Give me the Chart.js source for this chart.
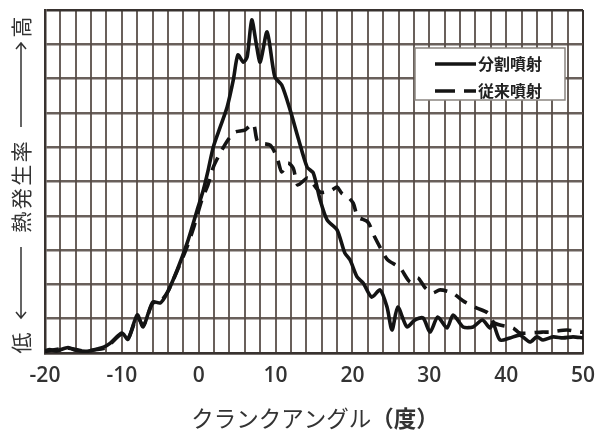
<!DOCTYPE html>
<html>
<head>
<meta charset="utf-8">
<script src="https://cdn.jsdelivr.net/npm/chart.js@4/dist/chart.umd.min.js"></script>
<style>
  html, body { margin: 0; padding: 0; background: #fff; }
  #wrap { width: 598px; height: 432px; }
</style>
</head>
<body>
<div id="wrap"><canvas id="c" width="598" height="432"></canvas></div>
<script>
// Crank angle (deg) and heat release rate (relative units, 0-100) per injection strategy
const crankAngleSplit = [-20, -19.4, -18.5, -17, -16, -14.5, -13.2, -12.3, -11.5, -10, -9.2, -8, -7.25, -6.5, -5.95, -5, -4.1, -2.8, -1.5, -0.7, -0.2, 0.6, 1.2, 1.9, 2.8, 3.7, 4.5, 5.1, 5.8, 6.3, 6.9, 7.5, 8.0, 8.9, 9.9, 10.8, 11.9, 12.9, 14.1, 14.9, 15.8, 16.7, 18.0, 19.0, 19.7, 20.6, 21.4, 22.5, 23.6, 24.5, 25.15, 25.9, 27.1, 28.1, 29.2, 30.1, 31.1, 32.3, 33.1, 34.4, 35.7, 36.9, 37.9, 38.3, 39.2, 40.5, 41.8, 43.1, 44.0, 44.8, 46.1, 47.4, 48.7, 50];
const heatRateSplit = [0.6, 1.0, 0.6, 1.6, 0.8, 0.5, 1.2, 1.8, 2.9, 5.8, 4.0, 11.1, 7.6, 12.0, 14.9, 14.6, 17.5, 24.2, 32.1, 37.9, 41.7, 47.5, 53, 60.1, 65.9, 71.7, 79.6, 86.9, 84.8, 86.3, 97.1, 90, 84.8, 93.6, 80.5, 78.1, 70.8, 63.0, 54.2, 52.5, 44.6, 38.8, 35.9, 29.2, 27.1, 22.2, 20.4, 16.3, 18.4, 13.4, 6.7, 13.4, 7.6, 9.6, 10.2, 6.1, 10.5, 7.3, 11.1, 7.6, 7.6, 9.6, 7.3, 8.7, 3.8, 4.4, 5.2, 3.2, 4.7, 3.8, 4.7, 4.4, 4.7, 4.4];

const crankAngleConv = [-20, -19, -17, -15, -13.2, -12, -11.5, -10, -9.2, -8, -7.2, -6, -5, -4, -2.8, -1.5, -0.6, 0.4, 1.2, 1.9, 2.8, 3.8, 4.7, 6.0, 7.1, 7.7, 9.3, 10.2, 10.8, 11.6, 12.3, 12.9, 14.2, 15.8, 17.3, 18.0, 18.6, 19.4, 20.1, 20.7, 22.0, 22.9, 23.8, 24.6, 26.2, 27.5, 28.5, 29.4, 30.4, 31.4, 33.0, 34.6, 36.2, 37.6, 38.5, 40.9, 41.8, 44.7, 45.7, 47.9, 49.6, 50];
const heatRateConv = [0.5, 0.9, 1.4, 0.6, 1.0, 1.6, 2.6, 5.5, 4.2, 10.5, 8.0, 14.5, 15.0, 18.0, 24.0, 31.0, 37.0, 44.6, 49.0, 54.2, 58.3, 62.1, 64.4, 65.0, 66.8, 61.5, 60.6, 56.9, 52.8, 55.4, 53.9, 49.0, 51.0, 46.9, 47.5, 48.4, 46.6, 45.5, 43.7, 39.7, 38.2, 33.8, 30.0, 27.1, 24.8, 20.7, 21.9, 19.2, 17.5, 18.4, 17.5, 14.9, 13.1, 11.7, 8.7, 7.3, 5.8, 6.1, 6.1, 6.7, 6.1, 6.1];

const xTickLabels = [-20, -10, 0, 10, 20, 30, 40, 50];
const seriesNames = ['分割噴射', '従来噴射'];
const xTitleMain = 'クランクアングル';
const xTitleUnit = '（度）';
const yTitleLow = '低';
const yTitleMid = '熱発生率';
const yTitleHigh = '高';

const toPoints = (xs, ys) => xs.map((x, i) => ({ x: x, y: ys[i] }));

const gridColor = 'rgba(84, 74, 68, 0.88)';
const edgeColor = '#38322f';
const textColor = '#333333';
const cjkFont = '"Noto Sans CJK JP", "Noto Sans", sans-serif';

// White page background
const bgPlugin = {
  id: 'bg',
  beforeDraw(chart) {
    const c = chart.ctx;
    c.save();
    c.fillStyle = '#fff';
    c.fillRect(0, 0, chart.width, chart.height);
    c.restore();
  }
};

// Axis titles: rotated low/high arrow title on the left, mixed-weight title below
const titlesPlugin = {
  id: 'titles',
  afterDraw(chart) {
    const c = chart.ctx;
    c.save();
    c.fillStyle = textColor;
    c.strokeStyle = textColor;
    c.lineWidth = 1.5;
    const cx = 21;
    c.font = '21px ' + cjkFont;
    const vchar = (ch, yc) => {
      c.save();
      c.translate(cx, yc);
      c.rotate(-Math.PI / 2);
      c.textAlign = 'center';
      c.textBaseline = 'middle';
      c.fillText(ch, 0, 0);
      c.restore();
    };
    vchar(yTitleHigh, 27);
    vchar(yTitleLow, 343);
    const midChars = Array.from(yTitleMid);
    const step = 23.5;
    const midCenter = 187;
    midChars.forEach((ch, i) => {
      vchar(ch, midCenter + (midChars.length - 1) / 2 * step - i * step);
    });
    // arrow toward 高
    c.beginPath();
    c.moveTo(cx, 127); c.lineTo(cx, 43);
    c.moveTo(cx - 5, 49); c.lineTo(cx, 43); c.lineTo(cx + 5, 49);
    c.stroke();
    // arrow toward 低
    c.beginPath();
    c.moveTo(cx, 247); c.lineTo(cx, 318);
    c.moveTo(cx - 5, 312); c.lineTo(cx, 318); c.lineTo(cx + 5, 312);
    c.stroke();

    // bottom title
    const fMain = '22.5px ' + cjkFont;
    const fUnit = 'bold 22.5px ' + cjkFont;
    c.font = fMain;
    const wMain = c.measureText(xTitleMain).width;
    c.font = fUnit;
    const wUnit = c.measureText(xTitleUnit).width;
    const x0 = 315 - (wMain + wUnit) / 2;
    c.textBaseline = 'middle';
    c.textAlign = 'left';
    c.font = fMain;
    c.fillText(xTitleMain, x0, 418);
    c.font = fUnit;
    c.fillText(xTitleUnit, x0 + wMain, 418);
    c.restore();
  }
};

// Boxed legend in the upper right of the plot
const legendSampleDash = [[], [20, 9]];
const legendBoxPlugin = {
  id: 'legendBox',
  afterDatasetsDraw(chart) {
    const c = chart.ctx;
    const bx = 415, by = 48, bw = 150, bh = 52;
    c.save();
    c.fillStyle = '#fff';
    c.fillRect(bx, by, bw, bh);
    c.strokeStyle = '#8a8580';
    c.lineWidth = 1.5;
    c.strokeRect(bx, by, bw, bh);
    const rows = [64, 91];
    chart.data.datasets.forEach((ds, i) => {
      const y = rows[i];
      c.strokeStyle = ds.borderColor;
      c.lineWidth = ds.borderWidth;
      c.setLineDash(legendSampleDash[i]);
      c.beginPath();
      c.moveTo(435, y);
      c.lineTo(476, y);
      c.stroke();
      c.setLineDash([]);
      c.fillStyle = '#222';
      c.font = 'bold 16px ' + cjkFont;
      c.textAlign = 'left';
      c.textBaseline = 'middle';
      c.fillText(ds.label, 478, y);
    });
    c.restore();
  }
};

new Chart(document.getElementById('c'), {
  type: 'line',
  data: {
    datasets: [
      {
        label: seriesNames[0],
        data: toPoints(crankAngleSplit, heatRateSplit),
        borderColor: '#141414',
        borderWidth: 3.6,
        pointRadius: 0,
        tension: 0.25,
        fill: false
      },
      {
        label: seriesNames[1],
        data: toPoints(crankAngleConv, heatRateConv),
        borderColor: '#141414',
        borderWidth: 3.6,
        borderDash: [14, 9],
        pointRadius: 0,
        tension: 0.25,
        fill: false
      }
    ]
  },
  options: {
    responsive: false,
    animation: false,
    devicePixelRatio: 1,
    layout: { padding: { top: 10, right: 15, left: 0, bottom: 0 } },
    plugins: { legend: { display: false }, tooltip: { enabled: false } },
    scales: {
      x: {
        type: 'linear',
        min: -20,
        max: 50,
        afterFit: s => { s.height = 79; s.paddingLeft = 0; s.paddingRight = 0; },
        afterBuildTicks: s => {
          const t = [];
          for (let v = -20; v <= 50; v += 2) t.push({ value: v });
          s.ticks = t;
        },
        ticks: {
          autoSkip: false,
          maxRotation: 0,
          padding: 10,
          color: textColor,
          font: { family: '"Open Sans", sans-serif', size: 21, weight: '600' },
          callback: v => (xTickLabels.includes(v) ? String(v) : '')
        },
        grid: {
          color: ctx => (ctx.tick && ctx.tick.value === 50 ? edgeColor : gridColor),
          lineWidth: 2,
          drawTicks: false
        },
        border: { display: true, color: edgeColor, width: 2.5 }
      },
      y: {
        min: 0,
        max: 100,
        afterFit: s => { s.width = 45; },
        ticks: { stepSize: 10, display: false },
        grid: {
          color: ctx => (ctx.tick && ctx.tick.value === 100 ? edgeColor : gridColor),
          lineWidth: 2.5,
          drawTicks: false
        },
        border: { display: true, color: edgeColor, width: 2.5 }
      }
    }
  },
  plugins: [bgPlugin, legendBoxPlugin, titlesPlugin]
});
</script>
</body>
</html>
